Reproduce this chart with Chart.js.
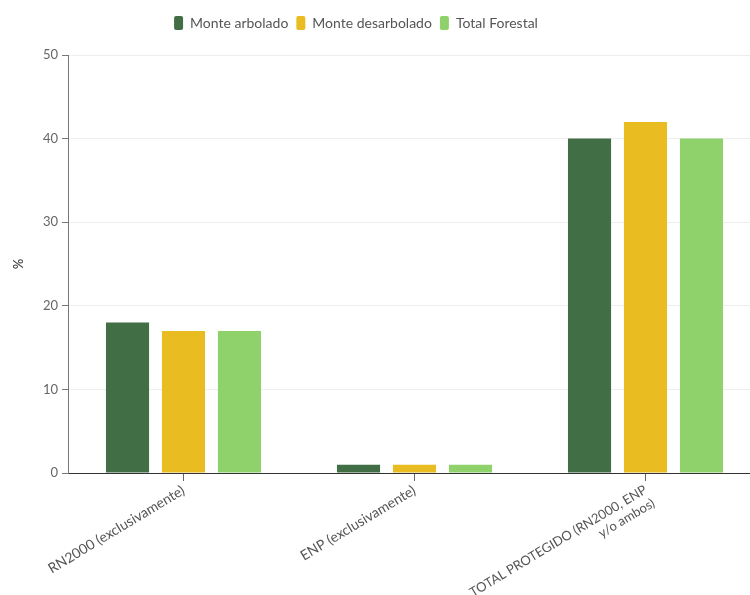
<!DOCTYPE html>
<html>
<head>
<meta charset="utf-8">
<script src="https://cdn.jsdelivr.net/npm/chart.js"></script>
<style>
  html, body { margin: 0; padding: 0; background: #fff; overflow: hidden; }
  #wrap { width: 765px; height: 595px; }
</style>
</head>
<body>
<div id="wrap"><canvas id="myChart"></canvas></div>
<script>
const categories = [
  'RN2000 (exclusivamente)',
  'ENP (exclusivamente)',
  ['TOTAL PROTEGIDO (RN2000, ENP', 'y/o ambos)']
];
const monteArbolado = [18, 1, 40];
const monteDesarbolado = [17, 1, 42];
const totalForestal = [17, 1, 40];
const yTicks = [0, 10, 20, 30, 40, 50];

Chart.defaults.font.family = 'Lato, "Open Sans", sans-serif';
Chart.defaults.color = '#666';

// legend sits a bit left of centre and leaves more room under it
const legendTweak = {
  id: 'legendTweak',
  beforeLayout(chart) {
    const lg = chart.legend;
    if (lg && !lg._tweaked) {
      const fit = lg.fit.bind(lg);
      lg.fit = function () { fit(); this.height += 15; };
      lg._tweaked = true;
    }
  },
  afterLayout(chart) {
    chart.legend.left -= 30;
    chart.legend.right -= 30;
  },
};

const ctx = document.getElementById('myChart').getContext('2d');
new Chart(ctx, {
  type: 'bar',
  data: {
    labels: categories,
    datasets: [
      { label: 'Monte arbolado', data: monteArbolado, backgroundColor: '#426e46' },
      { label: 'Monte desarbolado', data: monteDesarbolado, backgroundColor: '#e9bc22' },
      { label: 'Total Forestal', data: totalForestal, backgroundColor: '#8fd16a' },
    ],
  },
  options: {
    responsive: true,
    maintainAspectRatio: false,
    animation: false,
    categoryPercentage: 0.727,
    barPercentage: 0.77,
    layout: { padding: { top: 8, right: 4, left: 11, bottom: 0 } },
    plugins: {
      legend: {
        position: 'top',
        labels: {
          boxWidth: 9,
          boxHeight: 14,
          useBorderRadius: true,
          borderRadius: 2,
          padding: 8,
          color: '#555',
          font: { size: 14 },
        },
      },
      tooltip: { enabled: false },
    },
    scales: {
      x: {
        border: { color: '#333', width: 1 },
        grid: { offset: false, drawOnChartArea: false, tickLength: 8, color: '#666' },
        ticks: {
          maxRotation: 31,
          minRotation: 31,
          // uppercase Lato runs long, so the last label is a touch smaller
          font: c => ({ size: c.index === 2 ? 13 : 14 }),
          color: '#555',
          padding: 1,
        },
        afterFit: scale => { scale.height = 122; },
      },
      y: {
        min: 0,
        max: 50,
        afterBuildTicks: scale => { scale.ticks = yTicks.map(v => ({ value: v })); },
        border: { color: '#777', width: 1 },
        grid: { color: '#eee', tickColor: '#777', tickLength: 6 },
        ticks: { font: { size: 13 }, color: '#666', padding: 4 },
        title: { display: true, text: '%', font: { size: 13, weight: '600' }, color: '#444', padding: 0 },
        afterFit: scale => { scale.width = 57; },
      },
    },
  },
  plugins: [legendTweak],
});
</script>
</body>
</html>
